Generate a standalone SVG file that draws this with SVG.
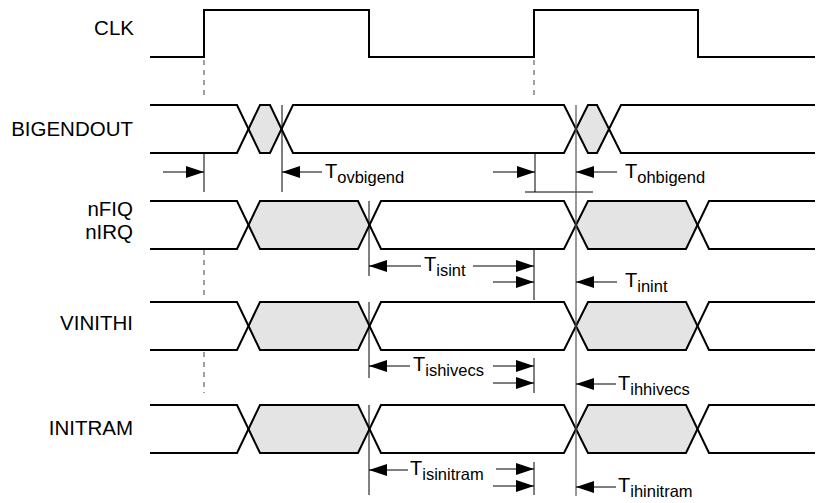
<svg xmlns="http://www.w3.org/2000/svg" width="817" height="503" viewBox="0 0 817 503">
<defs>
<style>
.sig{fill:none;stroke:#000;stroke-width:2;stroke-linejoin:miter}
.shade{fill:#e4e4e4;stroke:none}
.lbl{font-family:"Liberation Sans",Arial,sans-serif;font-size:20.5px;fill:#000;text-anchor:end}
.t{font-family:"Liberation Sans",Arial,sans-serif;font-size:20px;fill:#000}
.sub{font-size:16.5px}
.ref{stroke:#000;stroke-width:1;fill:none}
.gref{stroke:#555;stroke-width:1.2;fill:none}
.dash{stroke:#444;stroke-width:1;stroke-dasharray:5 5;fill:none}
.arr{stroke:#000;stroke-width:1.2;fill:none;marker-end:url(#ah)}
</style>
<marker id="ah" viewBox="0 0 18 12" refX="18" refY="6" markerWidth="18" markerHeight="12" markerUnits="userSpaceOnUse" orient="auto">
<path d="M0,0 L18,6 L0,12 z" fill="#000"/>
</marker>
</defs>
<rect width="817" height="503" fill="#fff"/>

<g id="clk">
<text class="lbl" x="134" y="35">CLK</text>
<path class="sig" d="M150,57 H204 V10 H369 V57 H534 V10 H698 V57 H815"/>
</g>

<g id="bigendout">
<text class="lbl" x="133" y="136">BIGENDOUT</text>
<polygon class="shade" points="248.5,129 260,105 270,105 281.5,129 270,153 260,153"/>
<polygon class="shade" points="576,129 588,105 597,105 609,129 597,153 588,153"/>
<path class="sig" d="M150,105 H237 L260,153 H270 L293,105 H564 L588,153 H597 L621,105 H815"/>
<path class="sig" d="M150,153 H237 L260,105 H270 L293,153 H564 L588,105 H597 L621,153 H815"/>
</g>

<g id="nfiq">
<text class="lbl" x="133" y="216">nFIQ</text>
<text class="lbl" x="133" y="239">nIRQ</text>
<polygon class="shade" points="248.5,225 260,201 358,201 369.5,225 358,249 260,249"/>
<polygon class="shade" points="576,225 588,201 686,201 697.5,225 686,249 588,249"/>
<path class="sig" d="M150,201 H237 L260,249 H358 L381,201 H564 L588,249 H686 L709,201 H815"/>
<path class="sig" d="M150,249 H237 L260,201 H358 L381,249 H564 L588,201 H686 L709,249 H815"/>
</g>

<g id="vinithi">
<text class="lbl" x="133" y="330">VINITHI</text>
<polygon class="shade" points="248.5,326 260,302 358,302 369.5,326 358,350 260,350"/>
<polygon class="shade" points="576,326 588,302 686,302 697.5,326 686,350 588,350"/>
<path class="sig" d="M150,302 H237 L260,350 H358 L381,302 H564 L588,350 H686 L709,302 H815"/>
<path class="sig" d="M150,350 H237 L260,302 H358 L381,350 H564 L588,302 H686 L709,350 H815"/>
</g>

<g id="initram">
<text class="lbl" x="133" y="435">INITRAM</text>
<polygon class="shade" points="248.5,429 260,405 358,405 369.5,429 358,453 260,453"/>
<polygon class="shade" points="576,429 588,405 686,405 697.5,429 686,453 588,453"/>
<path class="sig" d="M150,405 H237 L260,453 H358 L381,405 H564 L588,453 H686 L709,405 H815"/>
<path class="sig" d="M150,453 H237 L260,405 H358 L381,453 H564 L588,405 H686 L709,453 H815"/>
</g>

<g id="connectors">
<path class="dash" d="M204,60 V100 M204,250 V300 M204,352 V393 M534,60 V100"/>
<path class="ref" d="M204,153 V192 M282,105 V192 M535,153 V192 M525,192 H593"/>
<path class="gref" d="M576,105 V496"/>
<path class="ref" d="M369,201 V276 M369,302 V378 M369,405 V495"/>
<path class="ref" d="M534,249 V300 M534,358 V393 M534,462 V495"/>

<path class="arr" d="M163,172 H204"/>
<path class="arr" d="M322,172 H282"/>
<text class="t" x="325" y="178">T<tspan class="sub" dy="5">ovbigend</tspan></text>
<path class="arr" d="M493,172 H535"/>
<path class="arr" d="M617,172 H576"/>
<text class="t" x="625" y="178">T<tspan class="sub" dy="5">ohbigend</tspan></text>

<path class="arr" d="M421,266 H369"/>
<text class="t" x="424" y="271">T<tspan class="sub" dy="5">isint</tspan></text>
<path class="arr" d="M473,266 H534"/>
<path class="arr" d="M493,282 H534"/>
<path class="arr" d="M617,282 H576"/>
<text class="t" x="625" y="287">T<tspan class="sub" dy="5">inint</tspan></text>

<path class="arr" d="M410,366 H369"/>
<text class="t" x="413" y="371">T<tspan class="sub" dy="5">ishivecs</tspan></text>
<path class="arr" d="M493,366 H534"/>
<path class="arr" d="M493,383 H534"/>
<path class="arr" d="M616,384 H576"/>
<text class="t" x="618" y="390">T<tspan class="sub" dy="5">ihhivecs</tspan></text>

<path class="arr" d="M408,470 H369"/>
<text class="t" x="410" y="475">T<tspan class="sub" dy="5">isinitram</tspan></text>
<path class="arr" d="M496,469 H534"/>
<path class="arr" d="M493,486 H534"/>
<path class="arr" d="M616,487 H576"/>
<text class="t" x="618" y="492">T<tspan class="sub" dy="5">ihinitram</tspan></text>
</g>
</svg>
